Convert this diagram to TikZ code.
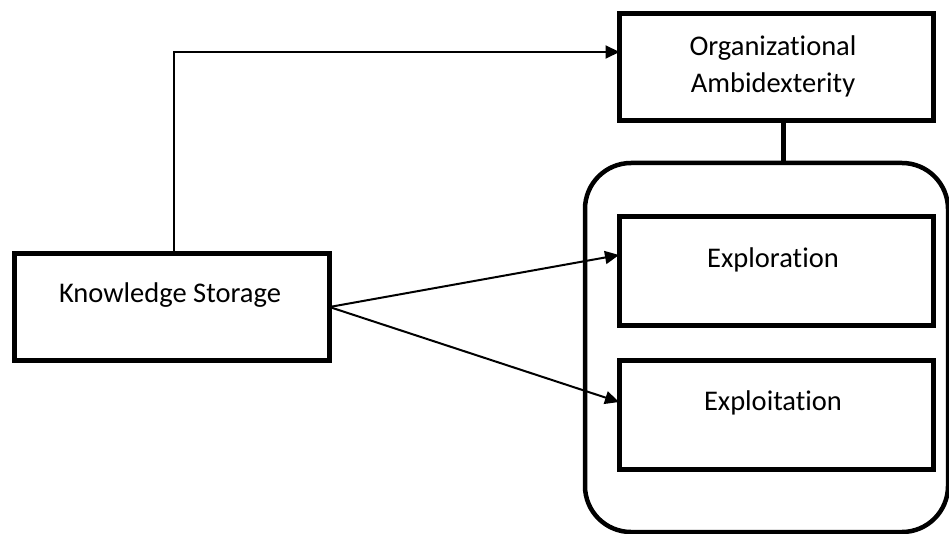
\documentclass[tikz,border=0pt]{standalone}
\usepackage{fontspec}
\setmainfont[Ligatures=NoCommon]{Carlito}
\usetikzlibrary{arrows.meta}
\begin{document}
\begin{tikzpicture}[x=1pt,y=-1pt,
  box/.style={draw=black,line width=5pt,rectangle,inner sep=0pt,outer sep=0pt,fill=white},
  contbox/.style={draw=black,line width=4.5pt,rectangle,rounded corners=46pt,inner sep=0pt,outer sep=0pt},
  lbl/.style={anchor=base,inner sep=0pt,font=\fontsize{28.5}{36}\selectfont},
  arr/.style={draw=black,line width=2pt,-{Triangle[length=14pt,width=13pt]}},
  stem/.style={draw=black,line width=5pt}]
\useasboundingbox (0,0) rectangle (949,534);
\node[contbox,minimum width=363pt,minimum height=369pt] (cont) at (766.5,347.5) {};
\node[box,minimum width=315pt,minimum height=107pt] (ks) at (172,307) {};
\node[box,minimum width=314pt,minimum height=107pt] (org) at (776.5,67) {};
\node[box,minimum width=314pt,minimum height=108pt] (explor) at (776,271) {};
\node[box,minimum width=314pt,minimum height=109pt] (exploit) at (776,414.5) {};
\node[lbl] (kst) at (170,302) {Knowledge Storage};
\node[lbl] (orgt1) at (773,56) {Organizational};
\node[lbl] (orgt2) at (773,93) {Ambidexterity};
\node[lbl] (explort) at (773,268) {Exploration};
\node[lbl] (exploitt) at (773,410) {Exploitation};
\draw[arr] ([xshift=2pt]ks.north) |- ([yshift=15pt]org.west);
\draw[arr] (ks.east) -- ([yshift=16pt]explor.west);
\draw[arr] (ks.east) -- ([yshift=12.5pt]exploit.west);
\draw[stem] ([xshift=6.5pt]org.south) -- ([xshift=6.5pt]org.south |- cont.north);
\end{tikzpicture}
\end{document}
